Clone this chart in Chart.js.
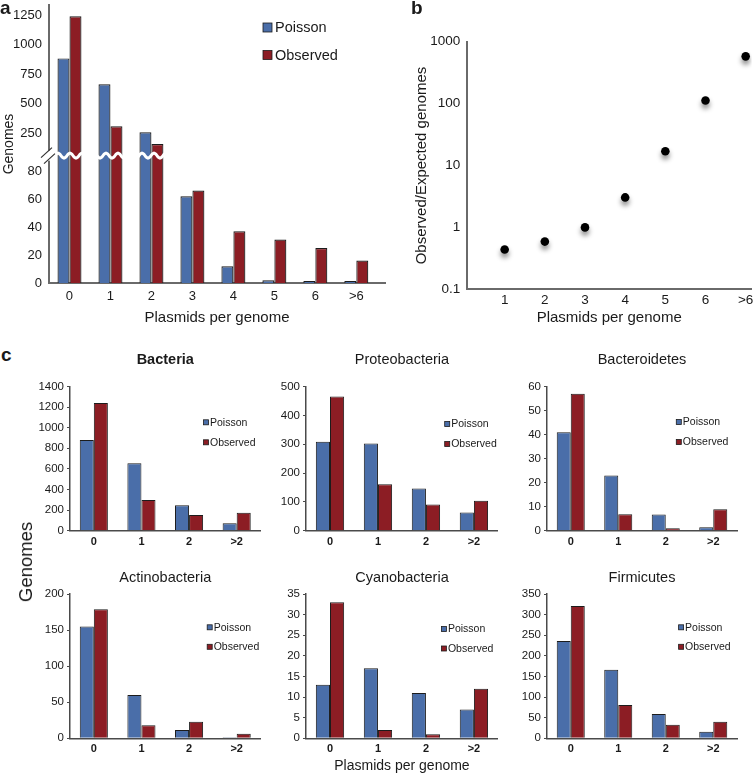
<!DOCTYPE html>
<html>
<head>
<meta charset="utf-8">
<title>Plasmids per genome</title>
<script src="https://cdn.jsdelivr.net/npm/chart.js@4.4.1/dist/chart.umd.min.js"></script>
<style>
  html, body { margin: 0; padding: 0; background: #fff; }
  body { position: relative; width: 756px; height: 774px; overflow: hidden; font-family: "Liberation Sans", Arial, sans-serif; color: #1a1a1a; }
  canvas { position: absolute; }
  .panel { position: absolute; font-size: 19px; font-weight: bold; line-height: 19px; }
  #genomesC { position: absolute; left: 26px; top: 562px; font-size: 18.5px; line-height: 20px; white-space: nowrap; transform: translate(-50%, -50%) rotate(-90deg); }
</style>
</head>
<body>
<canvas id="chartA"></canvas>
<canvas id="chartB"></canvas>
<canvas id="bacteria"></canvas>
<canvas id="proteo"></canvas>
<canvas id="bactero"></canvas>
<canvas id="actino"></canvas>
<canvas id="cyano"></canvas>
<canvas id="firmi"></canvas>
<div class="panel" style="left:0px;top:-2px">a</div>
<div class="panel" style="left:411px;top:-2px">b</div>
<div class="panel" style="left:1px;top:345px">c</div>
<div id="genomesC">Genomes</div>
<script>
// panel a: genomes per plasmid count, all bacteria
const plasmidLabels = ['0', '1', '2', '3', '4', '5', '6', '>6'];
const poissonCounts = [883, 664, 256, 62, 12, 2, 0.22, 0.03];
const observedCounts = [1240, 308, 158, 66, 37, 31, 25, 16];
const genomeTicks = [0, 20, 40, 60, 80, 250, 500, 750, 1000, 1250];

// panel b: observed / expected
const ratioLabels = ['1', '2', '3', '4', '5', '6', '>6'];
const ratioValues = [0.44, 0.59, 1.0, 3.05, 17, 112, 580];
const ratioTicks = [0.1, 1, 10, 100, 1000];

// panel c: per phylum
const groupLabels = ['0', '1', '2', '>2'];
const bacteriaPoisson = [880, 655, 247, 72];
const bacteriaObserved = [1240, 298, 152, 175];
const proteoPoisson = [308, 302, 146, 63];
const proteoObserved = [465, 161, 91, 104];
const bacteroPoisson = [41, 23, 6.7, 1.4];
const bacteroObserved = [57, 6.8, 1, 8.9];
const actinoPoisson = [155, 60, 11.5, 1.4];
const actinoObserved = [179, 18, 23, 6.4];
const cyanoPoisson = [13, 17, 11, 7];
const cyanoObserved = [33, 2, 1, 12];
const firmiPoisson = [236, 166, 59, 16];
const firmiObserved = [321, 81, 33, 40];

const FONT = '"Liberation Sans", Arial, Helvetica, sans-serif';
const BLUE = '#4a6ea9';
const RED = '#8c1d24';
const EDGE = '#1c1c1c';
const TEXT = '#1a1a1a';
const AXIS_A = '#6a6a6a';
const AXIS_C = '#4a4a4a';

Chart.defaults.font.family = FONT;
Chart.defaults.color = TEXT;
Chart.defaults.animation = false;
Chart.defaults.responsive = false;
Chart.defaults.plugins.legend.display = false;
Chart.defaults.plugins.tooltip.enabled = false;

// broken y axis for panel a: 0..91 on the lower part, 250..1250 squeezed on top
const BREAK_AT = 91;
const UPPER_BASE = 107.1;
const UPPER_SLOPE = 0.0843;
function toAxis(v) { return v <= BREAK_AT ? v : UPPER_BASE + (v - 250) * UPPER_SLOPE; }
function fromAxis(a) { return a <= BREAK_AT ? a : 250 + (a - UPPER_BASE) / UPPER_SLOPE; }

class BrokenScale extends Chart.LinearScale {
    getPixelForValue(value) { return super.getPixelForValue(toAxis(value)); }
    getValueForPixel(pixel) { return fromAxis(super.getValueForPixel(pixel)); }
}
BrokenScale.id = 'broken';
BrokenScale.defaults = Chart.LinearScale.defaults;
Chart.register(BrokenScale);

// legend drawn inside the plot area, like the Excel originals
const cornerLegend = {
    id: 'cornerLegend',
    afterDraw(chart, args, opts) {
        if (opts.x === undefined) return;
        const {ctx, chartArea} = chart;
        ctx.save();
        ctx.font = opts.size + 'px ' + FONT;
        ctx.textBaseline = 'middle';
        chart.data.datasets.forEach((ds, i) => {
            const x = chartArea.left + opts.x;
            const y = chartArea.top + opts.y + i * opts.gap;
            ctx.fillStyle = ds.backgroundColor;
            ctx.fillRect(x, y - opts.box / 2, opts.box, opts.box);
            ctx.strokeStyle = EDGE;
            ctx.lineWidth = 0.8;
            ctx.strokeRect(x, y - opts.box / 2, opts.box, opts.box);
            ctx.fillStyle = TEXT;
            ctx.fillText(ds.label, x + opts.box + opts.pad, y + 0.5);
        });
        ctx.restore();
    }
};

// white zigzag through the tall bars and the // mark on the axis
const axisBreak = {
    id: 'axisBreak',
    afterDraw(chart, args, opts) {
        const {ctx, chartArea, scales: {y}} = chart;
        const yb = y.getPixelForValue(opts.value);
        ctx.save();
        ctx.strokeStyle = '#fff';
        ctx.lineWidth = 3;
        ctx.beginPath();
        for (let x = chartArea.left + 2; x <= chartArea.right; x += 1) {
            const yy = yb + 2.5 * Math.sin((x - chartArea.left) / 12 * 2 * Math.PI);
            if (x === chartArea.left + 2) ctx.moveTo(x, yy); else ctx.lineTo(x, yy);
        }
        ctx.stroke();
        ctx.fillStyle = '#fff';
        ctx.fillRect(chartArea.left - 2, yb - 5, 4, 10);
        ctx.strokeStyle = '#333';
        ctx.lineWidth = 1.2;
        ctx.beginPath();
        ctx.moveTo(chartArea.left - 8, yb + 2); ctx.lineTo(chartArea.left + 3, yb - 8);
        ctx.moveTo(chartArea.left - 5, yb + 8); ctx.lineTo(chartArea.left + 6, yb - 2);
        ctx.stroke();
        ctx.restore();
    }
};

const dotShadow = {
    id: 'dotShadow',
    beforeDatasetsDraw(chart) {
        const ctx = chart.ctx;
        ctx.save();
        ctx.shadowColor = 'rgba(0,0,0,0.45)';
        ctx.shadowBlur = 5;
        ctx.shadowOffsetX = 0;
        ctx.shadowOffsetY = 4;
    },
    afterDatasetsDraw(chart) { chart.ctx.restore(); }
};

function place(id, left, top, width, height) {
    const c = document.getElementById(id);
    c.width = width;
    c.height = height;
    c.style.left = left + 'px';
    c.style.top = top + 'px';
    return c;
}

//- Panel a -
//-------------
new Chart(place('chartA', 0, 0, 392, 330), {
    type: 'bar',
    data: {
        datasets: [
            {
                label: 'Poisson',
                data: poissonCounts.map((v, i) => ({x: i, y: v})),
                backgroundColor: BLUE, borderColor: EDGE, borderWidth: 1.2, minBarLength: 2
            },
            {
                label: 'Observed',
                data: observedCounts.map((v, i) => ({x: i, y: v})),
                backgroundColor: RED, borderColor: EDGE, borderWidth: 1.2, minBarLength: 2
            }
        ]
    },
    options: {
        layout: {padding: {top: 5, right: 7, left: 0, bottom: 0}},
        datasets: {bar: {categoryPercentage: 0.585, barPercentage: 1}},
        plugins: {
            cornerLegend: {x: 214, y: 22.5, gap: 27.5, box: 9, size: 14.5, pad: 3},
            axisBreak: {value: BREAK_AT}
        },
        scales: {
            x: {
                type: 'linear', min: -0.5, max: 7.7, offset: false,
                grid: {display: false, drawTicks: false, offset: false},
                border: {color: AXIS_A, width: 2},
                ticks: {font: {size: 13}, padding: 6, color: TEXT, callback: v => plasmidLabels[v]},
                afterBuildTicks: s => { s.ticks = plasmidLabels.map((_, i) => ({value: i})); },
                title: {display: true, text: 'Plasmids per genome', font: {size: 15}, color: TEXT, padding: {top: 0, bottom: 3}},
                afterFit: s => { s.height = 47; s.paddingLeft = 0; s.paddingRight = 0; }
            },
            y: {
                type: 'broken', min: 0, max: 198.6,
                grid: {display: false, drawTicks: false},
                border: {color: AXIS_A, width: 2},
                ticks: {font: {size: 13}, padding: 7, color: TEXT, callback: v => String(v)},
                afterBuildTicks: s => { s.ticks = genomeTicks.map(v => ({value: v})); },
                title: {display: true, text: 'Genomes', font: {size: 14}, color: TEXT, padding: {top: 1, bottom: 0}},
                afterFit: s => { s.width = 49; s.paddingTop = 0; s.paddingBottom = 0; }
            }
        }
    },
    plugins: [cornerLegend, axisBreak]
});

//- Panel b -
//-------------
new Chart(place('chartB', 400, 0, 356, 330), {
    type: 'scatter',
    data: {
        datasets: [{
            label: 'Observed/Expected',
            data: ratioValues.map((v, i) => ({x: i + 1, y: v})),
            backgroundColor: '#000', borderWidth: 0, pointRadius: 4.3
        }]
    },
    options: {
        layout: {padding: {top: 41.7, right: 0, left: 0, bottom: 0}},
        scales: {
            x: {
                type: 'linear', min: 0.055, max: 7.15,
                grid: {display: false, drawTicks: false},
                border: {color: AXIS_A, width: 2},
                ticks: {font: {size: 13.5}, padding: 3, color: TEXT, callback: v => ratioLabels[v - 1]},
                afterBuildTicks: s => { s.ticks = ratioLabels.map((_, i) => ({value: i + 1})); },
                title: {display: true, text: 'Plasmids per genome', font: {size: 15}, color: TEXT, padding: {top: 0, bottom: 3}},
                afterFit: s => { s.height = 40.7; s.paddingLeft = 0; s.paddingRight = 0; }
            },
            y: {
                type: 'logarithmic', min: 0.1, max: 1000,
                grid: {display: false, drawTicks: false},
                border: {color: AXIS_A, width: 2},
                ticks: {font: {size: 13.5}, padding: 6.5, color: TEXT, callback: v => String(v)},
                afterBuildTicks: s => { s.ticks = ratioTicks.map(v => ({value: v})); },
                title: {display: true, text: 'Observed/Expected genomes', font: {size: 15}, color: TEXT, padding: {top: 13, bottom: 0}},
                afterFit: s => { s.width = 66.7; s.paddingTop = 0; s.paddingBottom = 0; }
            }
        }
    },
    plugins: [dotShadow]
});

//- Panel c -
//-------------
function groupChart(cfg) {
    const left = cfg.chartLeft - 48;
    const width = Math.round(cfg.chartRight + 4 - left);
    const height = cfg.bottom - cfg.top;
    const titleSize = 14.5;
    const lineH = titleSize * 1.2;
    const padTop = Math.max(cfg.titleY - cfg.top - lineH / 2, 0);
    const padBottom = cfg.chartTop - cfg.top - padTop - lineH;
    return new Chart(place(cfg.id, left, cfg.top, width, height), {
        type: 'bar',
        data: {
            labels: groupLabels,
            datasets: [
                {label: 'Poisson', data: cfg.poisson, backgroundColor: BLUE, borderColor: EDGE, borderWidth: 1},
                {label: 'Observed', data: cfg.observed, backgroundColor: RED, borderColor: EDGE, borderWidth: 1}
            ]
        },
        options: {
            layout: {padding: {top: 0, left: 0, bottom: 0, right: width - (cfg.chartRight - left)}},
            datasets: {bar: {categoryPercentage: 0.59, barPercentage: 1}},
            plugins: {
                title: {
                    display: true, text: cfg.title, fullSize: false, color: TEXT,
                    font: {size: titleSize, weight: cfg.bold ? 'bold' : 'normal'},
                    padding: {top: padTop, bottom: padBottom}
                },
                cornerLegend: {x: cfg.legend[0], y: cfg.legend[1], gap: cfg.legend[2], box: 5, size: 10.5, pad: 1.5}
            },
            scales: {
                x: {
                    grid: {display: false, drawTicks: false},
                    border: {color: AXIS_C, width: 1.5},
                    ticks: {font: {size: 11, weight: 'bold'}, padding: 4.4, color: TEXT},
                    title: cfg.xTitle
                        ? {display: true, text: cfg.xTitle, font: {size: 14}, color: TEXT, padding: {top: 0, bottom: 0}}
                        : {display: false},
                    afterFit: s => { s.height = cfg.bottom - cfg.chartBottom; s.paddingLeft = 0; s.paddingRight = 0; }
                },
                y: {
                    min: 0, max: cfg.max,
                    grid: {display: true, drawOnChartArea: false, drawTicks: true, tickLength: 3, color: AXIS_C, lineWidth: 1},
                    border: {color: AXIS_C, width: 1.5},
                    ticks: {stepSize: cfg.step, font: {size: 11.5}, padding: 3, color: TEXT, callback: v => String(v)},
                    afterFit: s => { s.width = cfg.chartLeft - left; s.paddingTop = 0; s.paddingBottom = 0; }
                }
            }
        },
        plugins: [cornerLegend]
    });
}

const row1 = {top: 351, bottom: 553, chartTop: 386.5, chartBottom: 530.7, titleY: 360};
const row2 = {top: 569, bottom: 775, chartTop: 594, chartBottom: 738.3, titleY: 577.5};
const col1 = {chartLeft: 69.5, chartRight: 260};
const col2 = {chartLeft: 306.3, chartRight: 498.2};
const col3 = {chartLeft: 546.7, chartRight: 736.7};

groupChart(Object.assign({id: 'bacteria', title: 'Bacteria', bold: true, poisson: bacteriaPoisson, observed: bacteriaObserved,
    max: 1400, step: 200, legend: [133.5, 35.8, 20]}, row1, col1));
groupChart(Object.assign({id: 'proteo', title: 'Proteobacteria', poisson: proteoPoisson, observed: proteoObserved,
    max: 500, step: 100, legend: [138.7, 37.5, 20]}, row1, col2));
groupChart(Object.assign({id: 'bactero', title: 'Bacteroidetes', poisson: bacteroPoisson, observed: bacteroObserved,
    max: 60, step: 10, legend: [129.3, 35.5, 20]}, row1, col3));
groupChart(Object.assign({id: 'actino', title: 'Actinobacteria', poisson: actinoPoisson, observed: actinoObserved,
    max: 200, step: 50, legend: [137.2, 33.3, 19.5]}, row2, col1));
groupChart(Object.assign({id: 'cyano', title: 'Cyanobacteria', poisson: cyanoPoisson, observed: cyanoObserved,
    max: 35, step: 5, legend: [135.4, 35, 19.5], xTitle: 'Plasmids per genome'}, row2, col2));
groupChart(Object.assign({id: 'firmi', title: 'Firmicutes', poisson: firmiPoisson, observed: firmiObserved,
    max: 350, step: 50, legend: [131.6, 33.3, 19.5]}, row2, col3));
</script>
</body>
</html>
